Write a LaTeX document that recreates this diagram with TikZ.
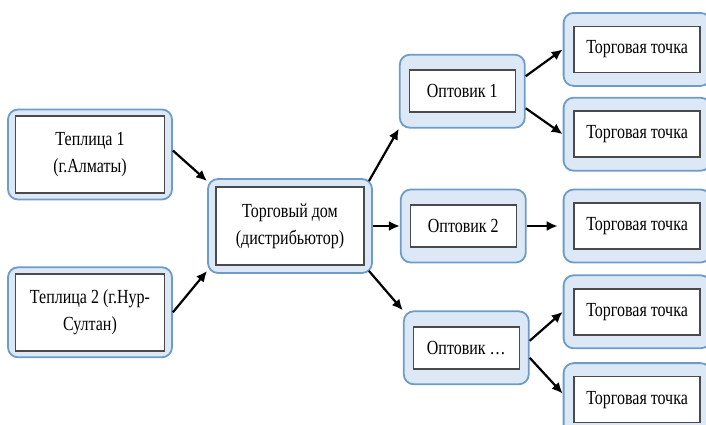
\documentclass[tikz,border=0pt]{standalone}
\usepackage{fontspec}
\setmainfont{Liberation Serif}[FakeStretch=0.8]
\usepackage{xcolor}
\usepackage{tikz}
\usetikzlibrary{arrows.meta,positioning}

\definecolor{boxfill}{HTML}{DCE8F5}
\definecolor{boxline}{HTML}{6E9CC9}
\definecolor{inline}{HTML}{4A4A4A}

\begin{document}
\begin{tikzpicture}[x=1pt, y=-1pt,
  obox/.style={draw=boxline, fill=boxfill, line width=1.8pt, rounded corners=10pt, inner sep=0pt},
  ibox/.style={draw=inline, fill=white, line width=1.6pt, align=center, inner sep=0pt,
               font=\fontsize{20}{27}\selectfont},
  tepbox/.style={obox, minimum width=164pt, minimum height=90pt},
  tepin/.style={ibox, minimum width=149pt, minimum height=77pt},
  optbox/.style={obox, minimum width=125pt, minimum height=73pt},
  optin/.style={ibox, minimum width=106pt, minimum height=42pt},
  torgbox/.style={obox, minimum width=147pt, minimum height=73pt},
  torgin/.style={ibox, minimum width=126pt, minimum height=46pt},
  arrow/.style={-{Latex[length=11pt,width=10pt]}, line width=2.2pt}
]
\useasboundingbox (0,0) rectangle (706,424);

% producers
\node[tepbox] (tep1) at (90,154.5) {};
\node[tepin] (tep1i) at (tep1) {Теплица 1\\(г.Алматы)};
\node[tepbox, below=66pt of tep1] (tep2) {};
\node[tepin] (tep2i) at (tep2) {Теплица 2 (г.Нур-\\Султан)};

% distributor
\node[obox, minimum width=164pt, minimum height=94pt] (house) at (290,226) {};
\node[ibox, minimum width=148pt, minimum height=78pt] (housei) at (house) {Торговый дом\\(дистрибьютор)};

% wholesalers
\node[optbox, right=27pt of house] (opt2) {};
\node[optin] (opt2i) at (opt2) {Оптовик 2};
\node[optbox, above=60pt of opt2, xshift=-1pt] (opt1) {};
\node[optin] (opt1i) at (opt1) {Оптовик 1};
\node[optbox, below=47pt of opt2, xshift=3pt] (optn) {};
\node[optin] (optni) at (optn) {Оптовик …};

% retail points
\node[torgbox, right=36pt of opt2] (torg3) {};
\node[torgin] (torg3i) at (torg3) {Торговая точка};
\node[torgbox, above=17pt of torg3] (torg2) {};
\node[torgin] (torg2i) at (torg2) {Торговая точка};
\node[torgbox, above=10pt of torg2] (torg1) {};
\node[torgin] (torg1i) at (torg1) {Торговая точка};
\node[torgbox, below=11pt of torg3] (torg4) {};
\node[torgin] (torg4i) at (torg4) {Торговая точка};
\node[torgbox, below=13pt of torg4] (torg5) {};
\node[torgin] (torg5i) at (torg5) {Торговая точка};

\draw[arrow] ([yshift=4pt]tep1.east) -- ([yshift=-3pt]house.north west);
\draw[arrow] (tep2.east) -- ([yshift=3pt]house.south west);
\draw[arrow] ([xshift=-4pt,yshift=-3pt]house.north east) -- (opt1.south west);
\draw[arrow] (house.east) -- (opt2.west);
\draw[arrow] ([xshift=-4pt,yshift=3pt]house.south east) -- (optn.north west);
\draw[arrow] ([yshift=15pt]opt1.east) -- (torg1.west);
\draw[arrow] ([yshift=-17pt]opt1.east) -- (torg2.west);
\draw[arrow] (opt2.east) -- ([xshift=-5pt]torg3.west);
\draw[arrow] ([yshift=7pt]optn.east) -- (torg4.west);
\draw[arrow] ([yshift=-10pt]optn.east) -- ([yshift=6pt]torg5.west);
\end{tikzpicture}
\end{document}
